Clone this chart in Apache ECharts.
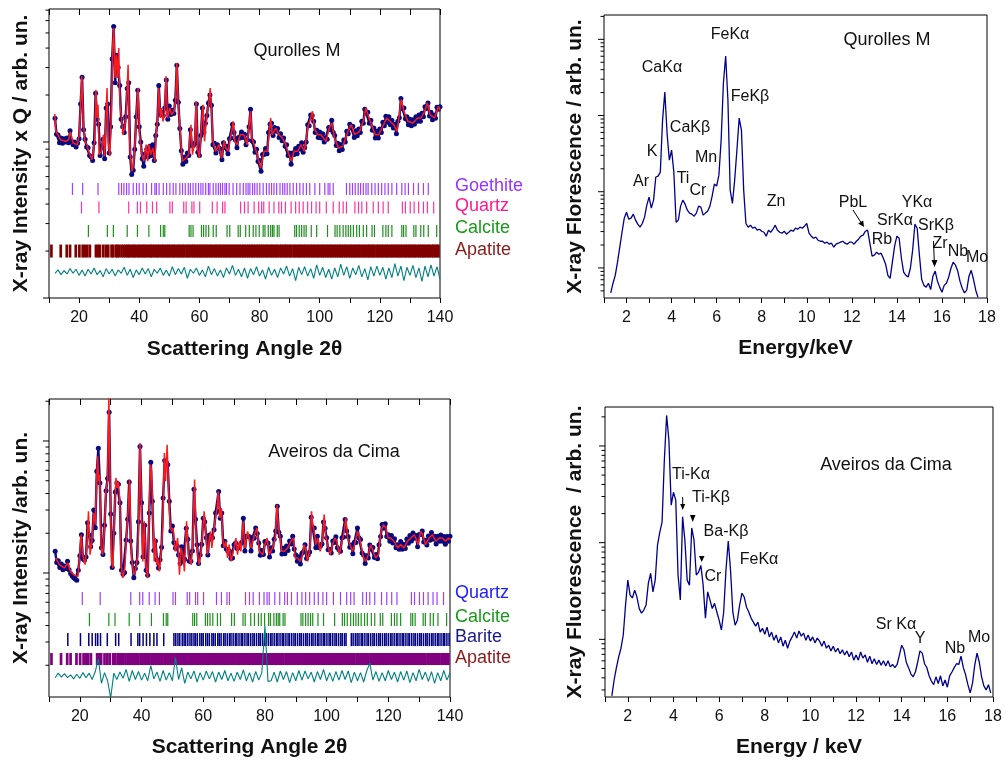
<!DOCTYPE html>
<html>
<head>
<meta charset="utf-8">
<script src="https://cdn.jsdelivr.net/npm/echarts@6/dist/echarts.min.js"></script>
<style>
html,body{margin:0;padding:0;background:#fff}
#c{width:1005px;height:761px}
</style>
</head>
<body>
<div id="c"></div>
<script>
// ===================== Tick labels =====================
const xrdTickLabels = [20, 40, 60, 80, 100, 120, 140];
const xrfTickLabels = [2, 4, 6, 8, 10, 12, 14, 16, 18];

// log-axis tick marks (unlabelled)
const ticksXrdQMajor = [100, 1000];
const ticksXrdQMinor = [200, 300, 400, 500, 600, 700, 800, 900, 2000, 3000, 4000, 5000, 6000, 7000];
const ticksXrdAMajor = [1000, 10000];
const ticksXrdAMinor = [200, 300, 400, 500, 600, 700, 800, 900, 2000, 3000, 4000, 5000, 6000, 7000, 8000, 9000, 20000];
const ticksXrfQMajor = [100, 1000, 10000, 100000];
const ticksXrfQMinor = [50, 60, 70, 80, 90, 200, 300, 400, 500, 600, 700, 800, 900, 2000, 3000, 4000, 5000, 6000, 7000, 8000, 9000,
  20000, 30000, 40000, 50000, 60000, 70000, 80000, 90000, 200000];
const ticksXrfAMajor = [100, 1000, 10000];
const ticksXrfAMinor = [30, 40, 50, 60, 70, 80, 90, 200, 300, 400, 500, 600, 700, 800, 900, 2000, 3000, 4000, 5000, 6000, 7000, 8000, 9000, 20000];

// ===================== XRD: Qurolles M =====================
// observed intensity x Q, scan from 12° in 0.5° steps
const XRD_START = 12.0, XRD_STEP = 0.5;
const xrdQObs = [
  1420, 1120, 1110, 990, 1060, 980, 1050, 1000, 1060, 990,
  1180, 1010, 960, 1000, 930, 980, 1050, 1750, 2600, 1200,
  1040, 930, 920, 820, 800, 760, 990, 2050, 1400, 1300,
  820, 930, 1040, 780, 1650, 1750, 850, 1250, 3400, 5500,
  2400, 3600, 3000, 2300, 1400, 1250, 1150, 1450, 2200, 2400,
  800, 620, 660, 900, 1450, 2150, 1250, 1000, 780, 700,
  840, 900, 800, 940, 820, 960, 760, 1100, 1300, 2300,
  1500, 1550, 1480, 1650, 2500, 1400, 1700, 1500, 1600, 1520,
  1850, 3100, 1800, 1220, 880, 720, 800, 750, 850, 820,
  1200, 950, 950, 980, 1750, 860, 820, 1100, 1650, 1150,
  1320, 1480, 1780, 2000, 1720, 960, 980, 850, 960, 920,
  900, 770, 990, 920, 940, 840, 1050, 1060, 1300, 1150,
  1030, 920, 1070, 1060, 1160, 1070, 1120, 960, 1030, 1250,
  1620, 1020, 1000, 860, 900, 750, 760, 650, 830, 830,
  910, 840, 1150, 1300, 1320, 1100, 1240, 1170, 1220, 1070,
  1130, 1020, 1060, 940, 960, 820, 850, 720, 850, 830,
  910, 840, 940, 900, 990, 860, 920, 1000, 1290, 1270,
  1490, 1480, 1360, 1150, 1190, 1070, 1160, 1060, 1130, 1000,
  1060, 1040, 1240, 1200, 1380, 1150, 1100, 950, 980, 880,
  965, 895, 1030, 1000, 1170, 1130, 1300, 1230, 1260, 1070,
  1180, 1095, 1210, 1150, 1360, 1320, 1620, 1530, 1550, 1320,
  1380, 1190, 1230, 1060, 1170, 1060, 1210, 1150, 1340, 1270,
  1460, 1340, 1450, 1290, 1380, 1230, 1300, 1130, 1360, 1430,
  1900, 1640, 1650, 1410, 1450, 1290, 1400, 1270, 1390, 1300,
  1450, 1360, 1490, 1360, 1530, 1450, 1680, 1640, 1780, 1470,
  1550, 1390, 1490, 1420, 1670, 1620, 1680
];
// calculated profile [2θ, intensity]
const xrdQCalc = [
  [11.9,1512],[12.3,1171],[13.8,1034],[15.5,1010],[16.5,1034],[17.1,1159],[18,985],[19.4,961],[20.1,1114],[20.9,2637],
  [21.4,1357],[21.9,1010],[22.6,961],[23.2,872],[24.3,770],[25.2,1010],[25.6,2165],[25.95,1425],[26.3,1734],[26.7,829],
  [27.4,872],[28.1,1114],[28.5,810],[29.3,2220],[29.7,1010],[30.2,810],[30.7,1425],[31.2,4205],[31.55,5380],[31.95,2570],
  [32.4,3627],[32.8,2570],[33.2,4005],[33.6,1734],[34.1,1425],[34.6,1114],[35.1,1229],[35.6,1425],[36.3,3130],[36.7,1171],
  [37.1,789],[37.6,649],[38.1,715],[38.7,1061],[39.1,1496],[39.6,2220],[40.1,1114],[40.7,872],[41.5,752],[42.3,961],
  [42.8,752],[43.2,961],[43.8,829],[44.5,915],[45.2,752],[45.6,1114],[46.1,1425],[46.5,2220],[47.0,1425],[47.4,1651],
  [47.9,1357],[48.4,1496],[48.9,2637],[49.4,1425],[50.1,1651],[50.8,1496],[51.5,1573],[52.1,1823],[52.5,3210],[52.9,1823],
  [53.5,1291],[53.9,961],[54.4,752],[55.5,789],[56.4,829],[57.2,1291],[57.7,829],[58.5,1010],[58.9,1823],[59.4,915],
  [60.0,789],[60.7,1291],[61.2,1734],[61.7,1010],[62.6,1573],[63.1,1734],[63.6,2220],[64.0,1651],[64.5,1010],[65.4,872],
  [66.5,961],[67.4,789],[68.2,1010],[68.8,915],[69.5,872],[70.3,1061],[70.8,1171],[71.3,1357],[71.8,1010],[72.5,961],
  [73.6,1114],[74.8,1114],[75.9,961],[77.0,1573],[77.5,1061],[78.9,872],[79.8,752],[80.4,681],[81.5,872],[82.6,872],
  [83.7,1425],[84.2,1114],[85.4,1229],[86.5,1114],[87.6,1061],[88.7,961],[89.8,829],[90.6,752],[91.5,872],[92.7,872],
  [93.8,961],[94.9,872],[96.0,1229],[97.0,1425],[97.6,1573],[98.2,1229],[99.3,1114],[100.4,1114],[102.1,1010],[103.2,1229],
  [104.0,1324],[104.9,1061],[106.3,915],[107.7,938],[109.4,1171],[110.5,1291],[111.6,1114],[113.3,1171],[114.8,1425],[115.3,1651],
  [116.8,1357],[118.5,1114],[119.6,1114],[120.7,1229],[122.3,1425],[123.4,1357],[124.6,1291],[125.7,1171],[126.5,1496],[127.1,1867],
  [128.0,1573],[129.3,1357],[131.0,1324],[132.6,1425],[133.7,1425],[134.9,1573],[135.8,1778],[136.7,1496],[138.2,1425],[139.5,1694],
  [140,1600]
];
// residual (obs - calc) in % of calc, 1° steps from 12°
const DIFF_START = 12;
const xrdQDiff = [
  -2, 3, -4, 2, -3, 5, -2, 4, -5, 3,
  -6, 4, -3, 6, -4, 2, -7, 5, -3, 4,
  -6, 3, -2, 7, -5, 4, -8, 3, -4, 6,
  -3, 5, -7, 4, -2, 6, -5, 3, -6, 8,
  -4, 5, -3, 7, -9, 4, -2, 6, -5, 3,
  -7, 9, -4, 5, -6, 3, -8, 6, -3, 10,
  -5, 4, -7, 6, -9, 5, -4, 8, -6, 3,
  -10, 7, -5, 4, -8, 6, -3, 9, -6, 5,
  -12, 7, -4, 8, -6, 5, -9, 11, -5, 7,
  -8, 4, -10, 6, -7, 12, -5, 8, -9, 6,
  -4, 10, -7, 5, -11, 8, -6, 9, -5, 7,
  -10, 6, -8, 13, -6, 9, -12, 7, -5, 10,
  -8, 6, -13, 9, -7, 11, -6, 8, -10
];

// ===================== XRD: Aveiros da Cima =====================
const xrdAObs = [
  1460, 1200, 1240, 1100, 1170, 1060, 1130, 1080, 1230, 1060,
  990, 950, 920, 900, 880, 1050, 1350, 1950, 1280, 1250,
  1320, 2400, 1950, 1580, 1760, 3000, 2200, 5900, 8800, 4800,
  1550, 1380, 2300, 4200, 5200, 16500, 2800, 1100, 2000, 4100,
  4800, 4700, 3400, 1050, 980, 1010, 1780, 2550, 4900, 1750,
  1200, 920, 1080, 1200, 2450, 9100, 3400, 1330, 2300, 1050,
  960, 2850, 6900, 3500, 1480, 1750, 1260, 1090, 1260, 1570,
  3700, 7100, 6900, 6600, 3500, 2080, 2270, 1700, 1540, 1610,
  1370, 1180, 1580, 1230, 1270, 2180, 1800, 1230, 1230, 1470,
  4300, 2550, 1640, 1180, 1370, 1650, 2600, 2450, 1850, 1370,
  1940, 1800, 1850, 2130, 2850, 2940, 4150, 2600, 2850, 1610,
  1740, 1520, 1460, 1470, 1290, 1300, 1640, 1690, 1530, 1550,
  1640, 1700, 2600, 1470, 1900, 1900, 1880, 1470, 1850, 1830,
  2190, 1990, 1690, 1360, 1480, 1380, 1730, 1690, 1690, 1320,
  1550, 1470, 1800, 2080, 3200, 2040, 1900, 1390, 1540, 1400,
  1600, 1480, 1750, 1660, 1900, 1520, 1370, 1230, 1330, 1170,
  1410, 1440, 1640, 1290, 1370, 1440, 2650, 2200, 2190, 1550,
  1900, 1560, 1600, 1660, 2430, 2180, 1850, 1500, 1510, 1420,
  1750, 1700, 1880, 1550, 1500, 1460, 1850, 1870, 2540, 2080,
  1880, 1570, 1630, 1400, 1710, 1700, 2190, 1850, 1790, 1420,
  1370, 1180, 1350, 1300, 1630, 1510, 1560, 1310, 1380, 1280,
  1640, 1890, 2330, 2180, 2360, 1890, 1950, 1740, 1920, 1690,
  1820, 1550, 1640, 1510, 1730, 1510, 1650, 1530, 1810, 1680,
  1920, 1750, 2010, 1830, 1920, 1580, 1960, 1960, 2080, 1720,
  1770, 1630, 1910, 1770, 2030, 1800, 1900, 1660, 1900, 1740,
  1940, 1740, 1890, 1650, 1890, 1740, 1900
];
const xrdACalc = [
  [12.1,1300],[13.4,1156],[15.0,1091],[16.1,1190],[16.9,1029],[18.3,960],[18.9,932],[19.4,943],[19.9,1299],[20.4,1950],
  [20.9,1377],[21.7,1156],[22.3,1640],[22.8,2930],[23.3,1377],[24.0,1840],[24.5,2850],[25.0,2320],[25.4,4950],[25.8,7650],
  [26.1,4950],[26.4,5550],[26.9,1550],[27.4,1377],[28.0,2190],[28.5,4410],[29.0,4950],[29.4,22000],[29.8,4950],[30.3,1225],
  [30.7,1091],[31.2,2770],[31.7,5250],[32.1,4410],[32.5,4950],[32.9,3700],[33.4,1156],[33.9,916],[34.6,1091],[35.2,2070],
  [35.7,3100],[36.1,5100],[36.5,1840],[36.9,1225],[37.5,971],[38.0,1029],[38.8,1377],[39.1,2770],[39.5,9650],[39.9,3700],
  [40.4,1225],[40.9,2460],[41.4,1156],[42.0,916],[42.6,3700],[42.9,6620],[43.2,6060],[43.6,3290],[44.1,1225],[44.5,1840],
  [44.9,1156],[45.2,1300],[45.8,1029],[46.3,1377],[46.9,2320],[47.4,8120],[47.8,4950],[48.3,9380],[48.7,4650],[49.2,2460],
  [49.7,2070],[50.2,2190],[51.0,1460],[51.7,1840],[52.3,971],[52.8,1550],[53.4,1377],[53.9,1029],[54.6,2460],[55.2,1377],
  [56.1,1156],[56.6,1640],[57.2,5100],[57.7,1840],[58.2,1377],[58.7,1156],[59.3,1460],[59.8,2070],[60.3,2930],[60.8,2070],
  [61.4,1377],[62.0,1840],[62.4,2070],[62.8,1550],[63.6,2320],[64.5,3100],[64.9,4160],[65.4,2610],[65.9,3100],[66.3,1840],
  [66.8,1550],[67.3,1740],[67.9,1300],[68.4,1640],[69.0,1225],[69.5,1377],[70.1,1590],[70.6,1840],[71.1,1377],[71.7,1740],
  [72.2,1460],[73.0,2460],[73.5,1550],[74.4,2070],[75.5,1550],[76.6,1950],[77.4,2190],[78.2,1460],[79.3,1377],[80.0,1640],
  [80.7,1840],[81.4,1377],[82.5,1550],[83.4,1840],[83.9,3290],[84.3,2320],[84.9,1840],[85.5,1460],[86.3,1460],[87.4,1550],
  [88.4,1740],[89.3,1840],[89.8,1300],[90.6,1300],[91.4,1225],[92.2,1377],[92.7,1640],[93.3,1460],[93.8,1225],[94.6,1550],
  [95.1,2930],[95.5,2320],[96.0,2070],[96.5,1640],[97.1,1840],[97.9,1460],[98.7,1840],[99.2,2770],[99.8,1840],[100.3,1640],
  [101.2,1377],[101.9,1640],[102.7,1840],[103.3,1740],[104.1,1377],[104.8,1640],[105.7,2070],[106.2,2610],[106.8,1840],[107.6,1640],
  [108.4,1460],[109.1,1640],[110.0,2070],[110.5,1950],[111.1,1640],[112.0,1300],[112.7,1225],[113.5,1377],[114.3,1640],[115.1,1460],
  [115.9,1300],[116.8,1377],[117.6,2070],[118.4,2320],[119.2,2190],[119.9,1840],[120.8,1840],[121.9,1740],[123.0,1550],[124.0,1640],
  [125.1,1550],[126.2,1740],[127.3,1840],[128.4,1950],[128.9,1840],[129.6,1640],[130.5,2070],[131.1,1950],[132.1,1640],[133.2,1840],
  [134.3,1950],[135.4,1740],[136.5,1840],[137.5,1840],[138.5,1740],[139.5,1840],[140,1800]
];
const xrdADiff = [
  -3, 5, -2, 4, -3, 2, -5, 3, -4, 6,
  -3, 5, -6, 8, 35, -12, 6, -8, -32, 5,
  -6, 7, -4, 12, -9, 10, -6, 8, -7, 5,
  -8, 20, -5, 7, -9, 10, -7, 6, -8, 38,
  -6, 15, -12, 7, -5, 9, -10, 6, -7, 9,
  -5, 8, -10, 7, -6, 10, -8, 5, -9, 7,
  -6, 11, -8, 6, -10, 8, -7, 6, 140, -9,
  -8, 7, -10, 9, -6, 8, -11, 6, -8, 10,
  -7, 9, -5, 7, -10, 8, -6, 12, -8, 6,
  -9, 8, -7, 10, -6, 9, -11, 7, -8, 6,
  -10, 9, 25, -7, 8, -9, 6, -8, 10, -6,
  7, -10, 8, -7, 9, -11, 6, -8, 12, -6,
  7, -9, 8, -12, 6, -8, 10, -7, 6
];

// ===================== Reflection positions (2θ) =====================
const goethiteRefl = [17.8, 21.2, 26.3, 33.2, 34.1, 34.9, 35.8, 36.6, 38.0, 39.1, 40.0, 41.3, 42.4, 44.1, 45.2, 45.7, 46.6, 48.0, 49.1,
  50.2, 51.3, 52.2, 53.5, 54.4, 55.3, 56.3, 57.0, 57.9, 58.8, 59.7, 60.5, 61.2, 62.1, 63.0, 63.5, 64.6, 65.5, 66.3, 67.0, 67.7, 68.5,
  69.0, 69.9, 71.2, 72.4, 73.5, 74.6, 75.5, 76.2, 76.8, 77.7, 78.4, 79.2, 80.1, 81.2, 82.3, 83.2, 84.0, 84.8, 85.7, 86.8, 87.7, 88.4,
  89.2, 90.1, 91.2, 92.3, 93.4, 94.5, 95.6, 96.7, 98.4, 100.0, 101.7, 102.8, 103.4, 104.5, 108.9, 110.0, 110.9, 111.8, 112.8, 113.6,
  114.5, 115.4, 116.1, 117.3, 118.4, 119.5, 120.6, 121.7, 122.8, 124.0, 125.6, 127.3, 128.4, 129.5, 131.2, 132.8, 134.5, 136.1];
const quartzRefl = [20.8, 26.6, 36.5, 39.4, 40.4, 42.5, 44.4, 45.8, 50.2, 51.0, 54.8, 55.6, 57.5, 58.2, 60.1, 64.3, 65.9, 67.7, 68.5,
  73.7, 75.0, 76.2, 78.2, 79.7, 80.7, 81.4, 83.2, 84.8, 86.4, 87.3, 88.6, 90.5, 92.0, 93.2, 94.5, 96.0, 97.3, 98.8, 100.0, 102.2,
  104.5, 106.5, 107.8, 108.9, 111.7, 112.9, 114.0, 115.6, 117.8, 119.5, 121.1, 122.8, 127.5, 128.5, 130.1, 131.4, 132.9, 134.5,
  135.8, 137.9];
const calciteRefl = [23.1, 29.4, 31.4, 36.0, 39.4, 43.2, 47.1, 48.0, 48.5, 56.6, 57.2, 57.9, 60.7, 61.4, 62.2, 63.1, 64.6, 65.6, 69.2,
  70.1, 72.9, 73.6, 75.4, 76.6, 77.9, 78.8, 79.9, 81.2, 81.8, 82.9, 83.7, 84.3, 84.8, 85.9, 86.5, 91.7, 92.3, 93.2, 94.0, 94.8, 95.5,
  97.2, 99.0, 102.6, 105.1, 105.8, 106.7, 107.8, 108.7, 109.5, 110.3, 111.2, 112.3, 113.2, 114.5, 115.6, 117.4, 118.2, 121.0, 122.0,
  122.8, 124.0, 127.3, 127.9, 128.7, 131.3, 132.0, 133.6, 134.6, 136.1, 138.9];
const bariteRefl = [16.1, 20.2, 22.9, 24.0, 25.1, 25.8, 26.7, 28.9, 31.6, 32.6, 36.6, 38.8, 39.4, 40.5, 41.6, 42.7, 44.0, 45.0, 47.2,
  50.5, 51.1, 51.8, 52.4, 53.2, 53.8, 54.3, 55.0, 55.7, 56.3, 57.0, 57.5, 58.1, 58.9, 59.5, 60.0, 60.8, 61.4, 62.0, 62.8, 63.3, 63.9,
  64.7, 65.2, 65.8, 66.6, 67.1, 67.8, 68.5, 69.0, 69.7, 70.4, 70.9, 71.6, 72.3, 72.8, 73.5, 74.2, 74.7, 75.4, 76.1, 76.6, 77.3, 78.0,
  78.5, 79.2, 79.9, 80.4, 81.1, 81.8, 82.3, 83.0, 83.7, 84.2, 84.9, 85.6, 86.1, 86.8, 87.5, 88.0, 88.7, 89.4, 89.9, 90.6, 91.3, 91.8,
  92.5, 93.2, 93.7, 94.4, 95.1, 95.6, 96.3, 97.0, 97.5, 98.2, 98.9, 99.4, 100.1, 100.8, 101.3, 102.0, 102.7, 103.2, 103.9, 104.6,
  105.1, 105.8, 106.3, 108.0, 108.6, 109.3, 109.9, 110.5, 111.2, 111.7, 112.4, 113.1, 113.6, 114.3, 115.0, 115.5, 116.2, 116.9, 117.4,
  118.1, 118.8, 119.3, 120.0, 120.7, 121.2, 121.9, 122.6, 123.1, 123.8, 124.5, 125.0, 125.7, 126.4, 126.9, 127.6, 128.3, 128.8,
  129.5, 130.2, 130.7, 131.4, 132.1, 132.6, 133.3, 134.0, 134.5, 135.2, 135.9, 136.4, 137.1, 137.8, 138.3, 139.0, 139.7];
const apatiteRefl = [10.8, 13.9, 15.9, 17.0, 18.9, 20.1, 21.2, 21.9, 22.7, 23.6, 25.6, 26.3, 26.9, 28.0, 28.9, 29.7, 30.8, 31.3, 32.2,
  32.7, 33.3, 34.1, 34.8, 35.5, 36.1, 36.6, 37.2, 37.9, 38.4, 39.0, 39.7, 40.2, 40.9, 41.4, 42.0, 42.6, 43.3, 43.8, 44.4, 45.0, 45.7,
  46.2, 46.8, 47.5, 48.0, 48.6, 49.2, 49.8, 50.3, 51.0, 51.5, 52.1, 52.8, 53.3, 53.9, 54.5, 55.0, 55.7, 56.2, 56.8, 57.4, 58.0, 58.5,
  59.1, 59.7, 60.3, 60.8, 61.4, 62.0, 62.5, 63.1, 63.7, 64.2, 64.9, 65.4, 66.0, 66.6, 67.1, 67.7, 68.3, 68.8, 69.4, 70.0, 70.5, 71.2,
  71.7, 72.3, 72.9, 73.4, 74.0, 74.6, 75.1, 75.8, 76.3, 76.9, 77.5, 78.0, 78.6, 79.2, 79.7, 80.3, 80.9, 81.4, 82.1, 82.6, 83.2, 83.8,
  84.3, 84.9, 85.5, 86.0, 86.7, 87.2, 87.8, 88.4, 88.9, 89.5, 90.1, 90.6, 91.3, 91.8, 92.4, 93.0, 93.5, 94.1, 94.7, 95.2, 95.9, 96.4,
  97.0, 97.6, 98.1, 98.7, 99.3, 99.8, 100.5, 101.0, 101.6, 102.2, 102.7, 103.3, 103.9, 104.4, 105.1, 105.6, 106.2, 106.8, 107.3,
  107.9, 108.5, 109.0, 109.7, 110.2, 110.8, 111.4, 111.9, 112.5, 113.1, 113.6, 114.3, 114.8, 115.4, 116.0, 116.5, 117.1, 117.7,
  118.2, 118.9, 119.4, 120.0, 120.6, 121.1, 121.7, 122.3, 122.8, 123.5, 124.0, 124.6, 125.2, 125.7, 126.3, 126.9, 127.4, 128.1,
  128.6, 129.2, 129.8, 130.3, 130.9, 131.5, 132.0, 132.7, 133.2, 133.8, 134.4, 134.9, 135.5, 136.1, 136.6, 137.3, 137.8, 138.4,
  139.0, 139.5];

// ===================== XRF spectra (counts, 0.1 keV channels) =====================
const XRF_START = 1.3, XRF_STEP = 0.1;
const xrfQ = [
  47, 63, 80, 119, 187, 294, 450, 539, 436, 450,
  508, 424, 375, 343, 383, 464, 667, 849, 609, 776,
  1560, 1600, 1810, 8700, 20360, 5840, 2600, 3524, 1810, 398,
  424, 647, 776, 687, 573, 524, 508, 478, 524, 647,
  628, 493, 524, 556, 647, 875, 1259, 1185, 1650, 4760,
  26700, 60500, 16000, 1050, 702, 1420, 3524, 9270, 6450, 1050,
  383, 343, 364, 332, 343, 313, 322, 303, 294, 261,
  313, 294, 322, 364, 313, 294, 286, 303, 277, 294,
  313, 303, 332, 322, 343, 332, 353, 383, 286, 261,
  245, 253, 231, 224, 224, 211, 218, 205, 211, 187,
  205, 211, 218, 224, 211, 205, 218, 218, 205, 224,
  238, 261, 269, 303, 313, 211, 143, 147, 161, 151,
  156, 134, 112, 80, 73, 119, 193, 261, 245, 134,
  88, 80, 76, 99, 171, 375, 332, 147, 71, 59,
  56, 63, 52, 78, 91, 67, 56, 48, 59, 63,
  76, 99, 119, 109, 91, 67, 54, 47, 51, 78,
  93, 71, 51, 41
];
const xrfA = [
  26, 38, 51, 66, 81, 111, 227, 410, 287, 268,
  323, 274, 208, 187, 201, 227, 382, 483, 310, 410,
  942, 1280, 1630, 7130, 20700, 11450, 2440, 3320, 2750, 463,
  255, 1850, 1060, 410, 364, 1420, 1060, 463, 495, 583,
  364, 166, 310, 255, 208, 236, 192, 158, 125, 192,
  520, 1040, 520, 192, 140, 158, 227, 300, 274, 215,
  192, 166, 151, 137, 151, 119, 130, 113, 134, 106,
  119, 98, 111, 92, 106, 85, 98, 81, 96, 106,
  119, 103, 122, 108, 116, 98, 111, 96, 106, 92,
  103, 96, 85, 96, 81, 87, 76, 85, 74, 81,
  71, 78, 69, 76, 66, 74, 61, 69, 61, 74,
  64, 69, 58, 67, 56, 63, 55, 61, 54, 60,
  53, 60, 52, 55, 51, 55, 69, 87, 78, 58,
  51, 44, 41, 46, 58, 76, 72, 56, 51, 42,
  37, 34, 41, 35, 42, 33, 38, 32, 42, 46,
  51, 56, 55, 67, 51, 43, 34, 28, 35, 54,
  72, 58, 41, 33, 30, 34, 28
];

// ===================== Layout & helpers =====================
const FONT = "'Liberation Sans', Arial, Helvetica, sans-serif";
const INK = '#111';

// baseline levels (in axis units) for the residual curves and reflection rows
const DIFF_BASE_Q = 147, DIFF_BASE_A = 166;
const ROW_Q = [500, 380, 269, 200];       // goethite, quartz, calcite, apatite
const ROW_A = [641, 444, 313, 223];       // quartz, calcite, barite, apatite

function onGrid(start, step, values) {
  return values.map((v, i) => [Math.round((start + i * step) * 100) / 100, v]);
}
function residual(start, values, base) {
  return values.map((r, i) => [start + i, base * (1 + r / 100)]);
}

function bottomAxis(grid, min, max, interval, labels, name, gap) {
  return {
    type: 'value', gridIndex: grid, position: 'bottom', min, max, interval,
    axisLine: { show: false }, splitLine: { show: false },
    axisTick: { show: true, length: 5, lineStyle: { color: '#000', width: 1 } },
    axisLabel: {
      margin: 12, fontSize: 16, color: INK, fontFamily: FONT, interval: 0,
      formatter: v => labels.indexOf(Math.round(v * 10) / 10) >= 0 ? String(Math.round(v)) : ''
    },
    name, nameLocation: 'middle', nameGap: gap,
    nameTextStyle: { fontSize: 21, fontWeight: 'bold', color: INK, fontFamily: FONT }
  };
}
function topAxis(grid, min, max, interval) {
  return {
    type: 'value', gridIndex: grid, position: 'top', min, max, interval,
    axisLine: { show: false }, splitLine: { show: false },
    axisTick: { show: true, inside: true, length: 6, lineStyle: { color: '#000', width: 1 } },
    axisLabel: { show: false }
  };
}
function logAxis(grid, min, max, name, gap) {
  return {
    type: 'log', logBase: 10, gridIndex: grid, min, max,
    axisLine: { show: false }, axisTick: { show: false }, axisLabel: { show: false },
    splitLine: { show: false }, minorTick: { show: false },
    name, nameLocation: 'middle', nameGap: gap,
    nameTextStyle: { fontSize: 21, fontWeight: 'bold', color: INK, fontFamily: FONT }
  };
}
// outward log ticks on the left edge of a panel
function yTicks(xi, yi, xMin, majors, minors) {
  const data = majors.map(v => [xMin, v, 1]).concat(minors.map(v => [xMin, v, 0]));
  return {
    type: 'custom', xAxisIndex: xi, yAxisIndex: yi, clip: false, silent: true, z: 5,
    data, encode: { x: 0, y: 1 },
    renderItem: (p, api) => {
      const c = api.coord([api.value(0), api.value(1)]);
      const len = api.value(2) ? 6 : 3.5;
      return { type: 'line', shape: { x1: c[0] - len, y1: c[1], x2: c[0], y2: c[1] },
        style: { stroke: '#000', lineWidth: 1 } };
    }
  };
}
// a row of reflection markers for one crystalline phase
function phaseRow(xi, yi, positions, level, half, color, width) {
  return {
    type: 'custom', xAxisIndex: xi, yAxisIndex: yi, clip: true, silent: true, z: 2,
    data: positions.map(p => [p, level]), encode: { x: 0, y: 1 },
    renderItem: (p, api) => {
      const c = api.coord([api.value(0), api.value(1)]);
      return { type: 'line', shape: { x1: c[0], y1: c[1] - half, x2: c[0], y2: c[1] + half },
        style: { stroke: color, lineWidth: width } };
    }
  };
}
// measured points: dots joined by a trace so the dense scan reads as a band
function observed(xi, yi, data) {
  return { type: 'line', xAxisIndex: xi, yAxisIndex: yi, data, symbol: 'circle', symbolSize: 5,
    showSymbol: true, showAllSymbol: true,
    itemStyle: { color: '#0a0a80', borderWidth: 0 },
    lineStyle: { color: '#0a0a80', width: 2.4 }, silent: true, z: 3 };
}
function curve(xi, yi, data, color, width, z) {
  return { type: 'line', xAxisIndex: xi, yAxisIndex: yi, data, showSymbol: false, symbol: 'none',
    lineStyle: { color, width }, silent: true, z };
}

function txt(x, y, text, size, color, align) {
  return { type: 'text', x, y, silent: true, z: 20,
    style: { text, fontSize: size || 16, fontFamily: FONT, fill: color || INK,
      align: align || 'center', verticalAlign: 'middle' } };
}
function seg(x1, y1, x2, y2) {
  return { type: 'line', silent: true, z: 20, shape: { x1, y1, x2, y2 }, style: { stroke: '#000', lineWidth: 1 } };
}
function tri(points) {
  return { type: 'polygon', silent: true, z: 20, shape: { points }, style: { fill: '#000' } };
}

const gridBase = { show: true, borderColor: '#000', borderWidth: 1, backgroundColor: 'transparent',
  containLabel: false, outerBoundsMode: 'none' };

const option = {
  animation: false,
  backgroundColor: '#fff',
  grid: [
    Object.assign({ left: 49, top: 9, width: 391, height: 289 }, gridBase),
    Object.assign({ left: 604, top: 15, width: 383, height: 283 }, gridBase),
    Object.assign({ left: 49, top: 399, width: 401, height: 298 }, gridBase),
    Object.assign({ left: 605, top: 407, width: 388, height: 290 }, gridBase)
  ],
  xAxis: [
    bottomAxis(0, 10, 140, 10, xrdTickLabels, 'Scattering Angle 2θ', 41),
    topAxis(0, 10, 140, 10),
    bottomAxis(1, 1, 18, 1, xrfTickLabels, 'Energy/keV', 40),
    bottomAxis(2, 10, 140, 10, xrdTickLabels, 'Scattering Angle 2θ', 40),
    topAxis(2, 10, 140, 10),
    bottomAxis(3, 1, 18, 1, xrfTickLabels, 'Energy / keV', 40)
  ],
  yAxis: [
    logAxis(0, 100, 7120, 'X-ray Intensity x Q / arb. un.', 17),
    logAxis(1, 40.3, 208600, 'X-ray Florescence / arb. un.', 18),
    logAxis(2, 115, 20800, 'X-ray Intensity /arb. un.', 17),
    logAxis(3, 25.35, 25300, 'X-ray Fluorescence  / arb. un.', 19)
  ],
  series: [
    // Qurolles M diffraction
    observed(0, 0, onGrid(XRD_START, XRD_STEP, xrdQObs)),
    curve(0, 0, xrdQCalc, '#ff1a1a', 1.5, 4),
    curve(0, 0, residual(DIFF_START, xrdQDiff, DIFF_BASE_Q), '#008080', 1.1, 3),
    phaseRow(0, 0, goethiteRefl, ROW_Q[0], 6, '#a040ff', 1.2),
    phaseRow(0, 0, quartzRefl, ROW_Q[1], 6, '#ff3399', 1.2),
    phaseRow(0, 0, calciteRefl, ROW_Q[2], 6, '#1f8f1f', 1.2),
    phaseRow(0, 0, apatiteRefl, ROW_Q[3], 6.5, '#800000', 2.7),
    yTicks(0, 0, 10, ticksXrdQMajor, ticksXrdQMinor),
    // Qurolles M fluorescence
    curve(2, 1, onGrid(XRF_START, XRF_STEP, xrfQ), '#00008b', 1.3, 3),
    yTicks(2, 1, 1, ticksXrfQMajor, ticksXrfQMinor),
    // Aveiros da Cima diffraction
    observed(3, 2, onGrid(XRD_START, XRD_STEP, xrdAObs)),
    curve(3, 2, xrdACalc, '#ff1a1a', 1.5, 4),
    curve(3, 2, residual(DIFF_START, xrdADiff, DIFF_BASE_A), '#008080', 1.1, 3),
    phaseRow(3, 2, quartzRefl, ROW_A[0], 6.5, '#a040ff', 1.2),
    phaseRow(3, 2, calciteRefl, ROW_A[1], 6.5, '#1f8f1f', 1.2),
    phaseRow(3, 2, bariteRefl, ROW_A[2], 6.5, '#000080', 1.5),
    phaseRow(3, 2, apatiteRefl, ROW_A[3], 6, '#800080', 2.7),
    yTicks(3, 2, 10, ticksXrdAMajor, ticksXrdAMinor),
    // Aveiros da Cima fluorescence
    curve(5, 3, onGrid(XRF_START, XRF_STEP, xrfA), '#00008b', 1.3, 3),
    yTicks(5, 3, 1, ticksXrfAMajor, ticksXrfAMinor)
  ],
  graphic: [
    // diffraction: sample name and phase key
    txt(297, 51, 'Qurolles M', 18),
    txt(455, 186, 'Goethite', 18, '#9933ff', 'left'),
    txt(455, 206, 'Quartz', 18, '#ff1a8c', 'left'),
    txt(455, 228, 'Calcite', 18, '#1a9a1a', 'left'),
    txt(455, 250, 'Apatite', 18, '#8b1a1a', 'left'),
    txt(334, 452, 'Aveiros da Cima', 18),
    txt(455, 593, 'Quartz', 18, '#2020ff', 'left'),
    txt(455, 617, 'Calcite', 18, '#1a9a1a', 'left'),
    txt(455, 637, 'Barite', 18, '#1a1a8c', 'left'),
    txt(455, 658, 'Apatite', 18, '#8b1a1a', 'left'),
    // fluorescence lines, Qurolles M
    txt(730, 35, 'FeKα'),
    txt(887, 40, 'Qurolles M', 18),
    txt(662, 68, 'CaKα'),
    txt(750, 97, 'FeKβ'),
    txt(690, 128, 'CaKβ'),
    txt(652, 152, 'K'),
    txt(706, 158, 'Mn'),
    txt(641, 182, 'Ar'),
    txt(683, 179, 'Ti'),
    txt(698, 191, 'Cr'),
    txt(776, 202, 'Zn'),
    txt(853, 203, 'PbL'),
    txt(917, 203, 'YKα'),
    txt(895, 221, 'SrKα'),
    txt(936, 226, 'SrKβ'),
    txt(882, 240, 'Rb'),
    txt(940, 244, 'Zr'),
    txt(958, 252, 'Nb'),
    txt(977, 258, 'Mo'),
    seg(853, 210, 861, 222.5), tri([[864, 227], [858.2, 223.6], [863.2, 220.4]]),
    seg(933.5, 241, 934.3, 262), tri([[934.5, 267], [931.5, 260], [937.5, 260]]),
    // fluorescence lines, Aveiros da Cima
    txt(886, 465, 'Aveiros da Cima', 18),
    txt(691, 475, 'Ti-Kα'),
    txt(711, 498, 'Ti-Kβ'),
    txt(726, 532, 'Ba-Kβ'),
    txt(759, 560, 'FeKα'),
    txt(713, 577, 'Cr'),
    txt(896, 625, 'Sr Kα'),
    txt(920, 639, 'Y'),
    txt(955, 649, 'Nb'),
    txt(979, 638, 'Mo'),
    seg(682.7, 497, 682.7, 504), tri([[682.7, 510], [680.2, 504], [685.2, 504]]),
    tri([[690, 515], [695.5, 515], [692.7, 522]]),
    tri([[699, 556], [704.5, 556], [701.7, 562]])
  ]
};

const chart = echarts.init(document.getElementById('c'), null, { renderer: 'canvas', width: 1005, height: 761 });
chart.setOption(option);
</script>
</body>
</html>
